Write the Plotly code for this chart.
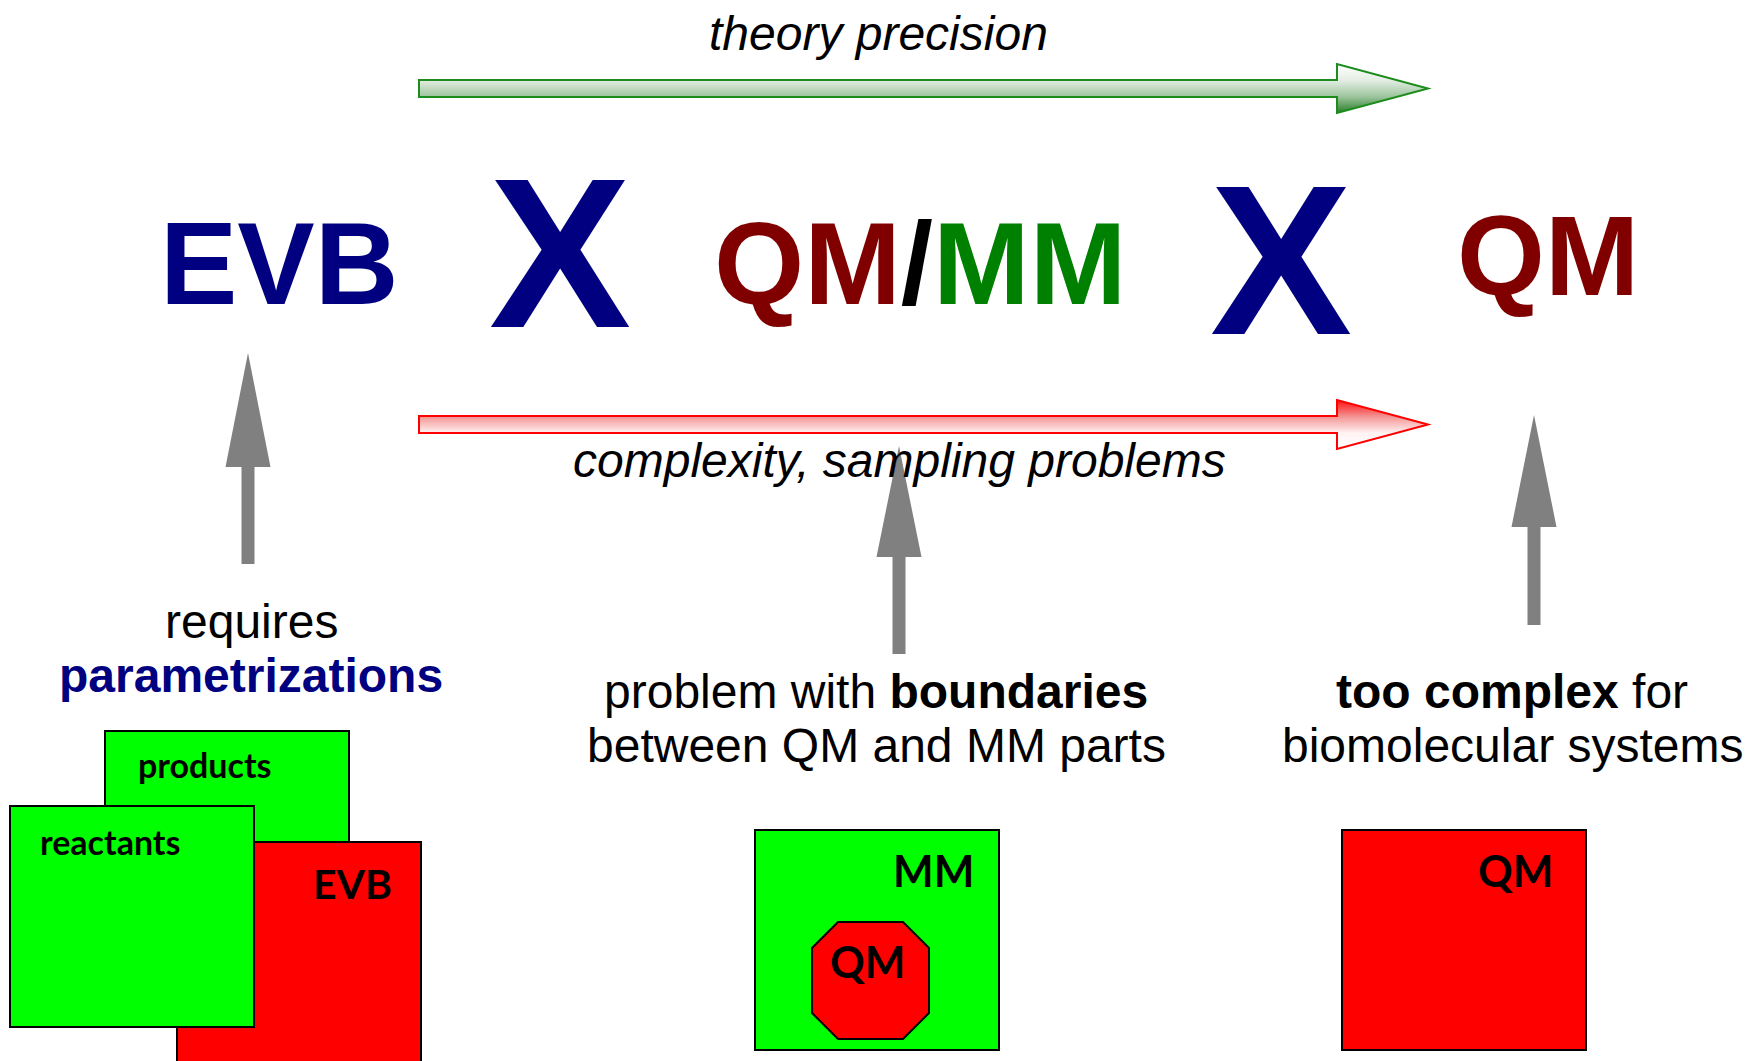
import plotly.graph_objects as go

W, H = 1748, 1061

# ---- text content -------------------------------------------------------
scheme_titles = ["EVB", "QM", "/", "MM", "QM"]
separator = "X"
trend_labels = ["theory precision", "complexity, sampling problems"]
note_requires = ["requires", "parametrizations"]
note_boundaries = ["problem with ", "boundaries", "between QM and MM parts"]
note_complex = ["too complex", " for", "biomolecular systems"]
box_labels_evb = ["products", "reactants", "EVB"]
box_labels_qmmm = ["MM", "QM"]
box_labels_qm = ["QM"]

NAVY = "#000080"
MAROON = "#800000"
DGREEN = "#008000"
LIME = "#00FF00"
RED = "#FF0000"
GRAY = "#808080"
ARIAL = "Liberation Sans"
CAL = "Lato"

shapes = []
annotations = []


def ann(x, y, text, size, color="black", family=ARIAL):
    annotations.append(dict(x=x, y=y, xref="x", yref="y", text=text, showarrow=False,
                            xanchor="center", yanchor="middle",
                            font=dict(family=family, size=size, color=color)))


def ann_base(x, baseline, text, size, color="black", family=ARIAL, asc=0.905, desc=0.212):
    ann(x, baseline - (asc - desc) / 2 * size, text, size, color, family)


def ann_cap(x, capc, text, size, color="black", family=ARIAL, asc=0.905, desc=0.212, cap=0.716):
    baseline = capc + cap / 2 * size
    ann_base(x, baseline, text, size, color, family, asc, desc)


def hex2rgb(h):
    h = h.lstrip("#")
    return tuple(int(h[i:i + 2], 16) for i in (0, 2, 4))


def grad_color(stops, t):
    for (t0, c0), (t1, c1) in zip(stops[:-1], stops[1:]):
        if t <= t1:
            f = 0 if t1 == t0 else (t - t0) / (t1 - t0)
            a, b = hex2rgb(c0), hex2rgb(c1)
            return "rgb(%d,%d,%d)" % tuple(round(a[k] + (b[k] - a[k]) * f) for k in range(3))
    return "rgb(%d,%d,%d)" % hex2rgb(stops[-1][1])


def gradient_arrow(xs, xb, xt, sy0, sy1, hy0, hy1, stops, edge):
    yc = (hy0 + hy1) / 2
    hh = (hy1 - hy0) / 2

    def right(y):
        return xb + (xt - xb) * (1 - abs(y - yc) / hh)

    n = int(round((hy1 - hy0) * 2))
    for i in range(n):
        y0 = hy0 + i * 0.5
        y1 = y0 + 0.5
        ym = (y0 + y1) / 2
        left = xs if sy0 <= ym <= sy1 else xb
        t = (ym - hy0) / (hy1 - hy0)
        col = grad_color(stops, t)
        y1e = min(y1 + 0.45, hy1)
        pts = [(left, y0), (right(y0), y0)]
        if y0 < yc < y1e:
            pts.append((xt, yc))
        pts += [(right(y1e), y1e), (left, y1e)]
        path = "M" + " L".join("%.2f,%.2f" % p for p in pts) + " Z"
        shapes.append(dict(type="path", xref="x", yref="y", path=path,
                           fillcolor=col, line=dict(width=0), layer="above"))
    outline = [(xs, sy0), (xb, sy0), (xb, hy0), (xt, yc), (xb, hy1), (xb, sy1), (xs, sy1)]
    path = "M" + " L".join("%.2f,%.2f" % p for p in outline) + " Z"
    shapes.append(dict(type="path", xref="x", yref="y", path=path,
                       fillcolor="rgba(0,0,0,0)", line=dict(color=edge, width=2), layer="above"))


def gray_arrow(cx, tip, base, bottom, hw=22.5, sw=6.5):
    pts = [(cx - sw, bottom), (cx - sw, base), (cx - hw, base), (cx, tip),
           (cx + hw, base), (cx + sw, base), (cx + sw, bottom)]
    path = "M" + " L".join("%.2f,%.2f" % p for p in pts) + " Z"
    shapes.append(dict(type="path", xref="x", yref="y", path=path,
                       fillcolor=GRAY, line=dict(width=0), layer="above"))


def box(x0, y0, x1, y1, color):
    shapes.append(dict(type="rect", xref="x", yref="y", x0=x0, y0=y0, x1=x1, y1=y1,
                       fillcolor=color, line=dict(color="black", width=2), layer="above"))


# ---- trend arrows -------------------------------------------------------
gradient_arrow(419, 1337, 1428, 80, 97, 64, 113,
               [(0, "#ffffff"), (0.33, "#e4eee4"), (0.67, "#9cc49c"), (1, "#2a7d2a")], "#1c8c1c")
gradient_arrow(419, 1337, 1428, 416, 433, 400, 449,
               [(0, "#ff1010"), (0.33, "#f49090"), (0.67, "#fff2f2"), (1, "#ffffff")], "#ff0000")

# ---- gray pointers ------------------------------------------------------
gray_arrow(248, 353, 467, 564)
gray_arrow(899, 446, 557, 654)
gray_arrow(1534, 415, 527, 625)

# ---- boxes --------------------------------------------------------------
box(105, 731, 349, 1000, LIME)
box(177, 842, 421, 1080, RED)
box(10, 806, 254, 1027, LIME)

box(755, 830, 999, 1050, LIME)
c = 26
ox0, oy0, ox1, oy1 = 812, 922, 929, 1039
oct_pts = [(ox0 + c, oy0), (ox1 - c, oy0), (ox1, oy0 + c), (ox1, oy1 - c),
           (ox1 - c, oy1), (ox0 + c, oy1), (ox0, oy1 - c), (ox0, oy0 + c)]
shapes.append(dict(type="path", xref="x", yref="y",
                   path="M" + " L".join("%.2f,%.2f" % p for p in oct_pts) + " Z",
                   fillcolor=RED, line=dict(color="black", width=2), layer="above"))

box(1342, 830, 1586, 1050, RED)

# ---- texts --------------------------------------------------------------
ann_base(878, 50, "<i>%s</i>" % trend_labels[0], 48)
ann_base(899, 477, "<i>%s</i>" % trend_labels[1], 48)

ann_cap(279, 263, "<b>%s</b>" % scheme_titles[0], 116, NAVY)
ann_cap(560, 250.5, "<b>%s</b>" % separator, 213, NAVY)
ann_cap(920, 263,
        "<b><span style='color:%s'>%s</span><span style='color:black'>%s</span>"
        "<span style='color:%s'>%s</span></b>" % (MAROON, scheme_titles[1], scheme_titles[2],
                                                    DGREEN, scheme_titles[3]), 116)
ann_cap(1281, 258, "<b>%s</b>" % separator, 213, NAVY)
ann_cap(1548, 255, "<b>%s</b>" % scheme_titles[4], 113, MAROON)

ann_base(251, 638, note_requires[0], 48)
ann_base(251, 692, "<b>%s</b>" % note_requires[1], 48, NAVY)
ann_base(876, 708, "%s<b>%s</b>" % (note_boundaries[0], note_boundaries[1]), 48)
ann_base(876, 762, note_boundaries[2], 48)
ann_base(1512, 708, "<b>%s</b>%s" % (note_complex[0], note_complex[1]), 48)
ann_base(1512, 762, note_complex[2], 48)

LA, LD, LC = 0.987, 0.213, 0.7165
ann_base(204, 778, "<b>%s</b>" % box_labels_evb[0], 34, family=CAL, asc=LA, desc=LD)
ann_base(110, 855, "<b>%s</b>" % box_labels_evb[1], 34, family=CAL, asc=LA, desc=LD)
ann_cap(352, 884.5, "<b>%s</b>" % box_labels_evb[2], 41, family=CAL, asc=LA, desc=LD, cap=LC)
ann_cap(933, 872, "<b>%s</b>" % box_labels_qmmm[0], 43, family=CAL, asc=LA, desc=LD, cap=LC)
ann_cap(867.5, 963, "<b>%s</b>" % box_labels_qmmm[1], 43, family=CAL, asc=LA, desc=LD, cap=LC)
ann_cap(1515.5, 872, "<b>%s</b>" % box_labels_qm[0], 43, family=CAL, asc=LA, desc=LD, cap=LC)

fig = go.Figure()
fig.update_layout(
    width=W, height=H,
    margin=dict(l=0, r=0, t=0, b=0, pad=0),
    paper_bgcolor="white", plot_bgcolor="white",
    showlegend=False,
    xaxis=dict(range=[0, W], visible=False, fixedrange=True),
    yaxis=dict(range=[H, 0], visible=False, fixedrange=True),
    shapes=shapes,
    annotations=annotations,
)

fig.write_html("out.html", config={"displayModeBar": False},
               post_script="document.body.style.margin='0';document.body.style.overflow='hidden';")
